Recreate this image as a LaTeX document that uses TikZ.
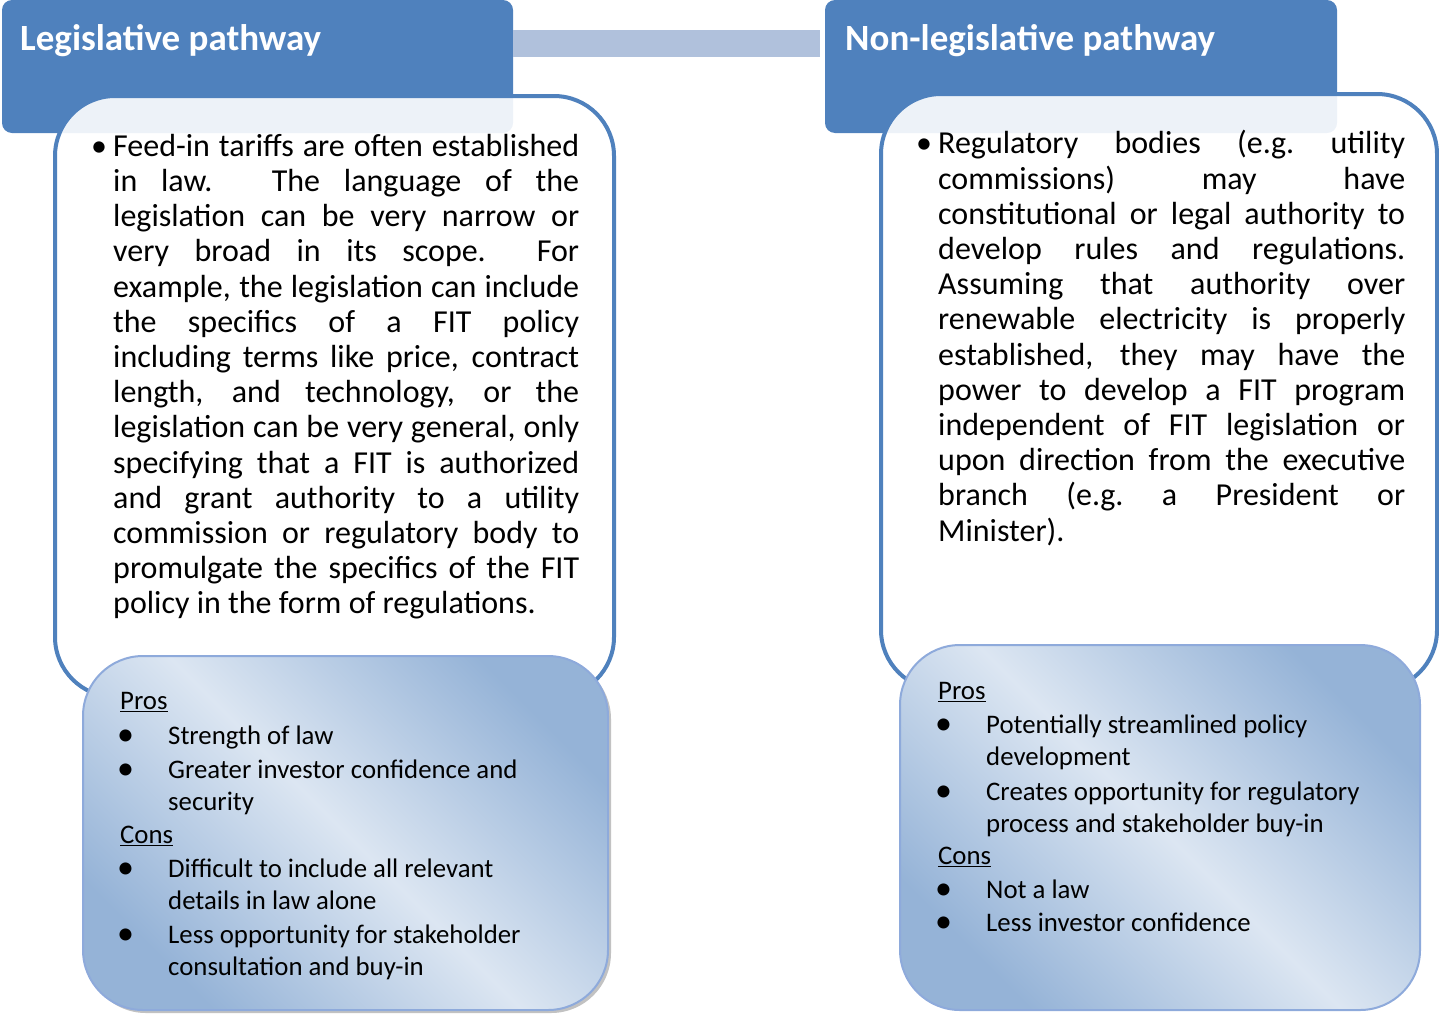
\documentclass[tikz,border=0pt]{standalone}
\usepackage{fontspec}
\setmainfont{Carlito}
\usetikzlibrary{shadows}
\definecolor{titleblue}{HTML}{4F81BD}
\definecolor{barblue}{HTML}{B0C1DC}
\definecolor{proslight}{HTML}{DCE6F2}
\definecolor{prosdark}{HTML}{95B3D7}
\definecolor{prosedge}{HTML}{8EAADB}
\newcommand*{\ProItem}{\makebox[48pt][l]{\hspace{-3pt}\raisebox{-1pt}{\fontsize{34}{32}\selectfont\textbullet}}}
\newcommand*{\ProCont}{\hspace*{48pt}}
\newcommand*{\BodyStart}{\noindent\strut\llap{\makebox[22pt][l]{\textbullet}}}

\begin{document}
\begin{tikzpicture}[x=1pt,y=-1pt,
    titlebox/.style={fill=titleblue, rounded corners=10pt, inner sep=0pt},
    panel/.style={draw=titleblue, line width=4pt, fill=white, fill opacity=0.9, rounded corners=60pt, inner sep=0pt},
    probox/.style={draw=prosedge, line width=2pt, rounded corners=60pt, inner sep=0pt,
      left color=prosdark, right color=prosdark, middle color=proslight, shading angle=-45},
    titletext/.style={anchor=base west, inner sep=0pt, text=white, font=\fontsize{37}{44}\selectfont\bfseries},
    bodytext/.style={anchor=north west, inner sep=0pt, text width=466pt, align=justify, font=\fontsize{32}{35.2}\selectfont},
    protext/.style={anchor=north west, inner sep=0pt, align=left, font=\fontsize{26.8}{32}\selectfont}]
            \useasboundingbox (0,0) rectangle (1439,1015);
            % header boxes and the bar between them
            \node[titlebox, minimum width=511pt, minimum height=133pt] (ltitle) at (257.5,66.5) {};
            \node[titlebox, minimum width=512pt, minimum height=133pt] (rtitle) at (1081,66.5) {};
            \draw[barblue, line width=27pt, shorten >=5pt] ([yshift=23pt]ltitle.east) -- ([yshift=23pt]rtitle.west);
            \node[titletext] (ltitletext) at (20,50) {Legislative pathway};
            \node[titletext] (rtitletext) at (845,50) {Non-legislative pathway};
            % white panels
            \node[panel, minimum width=559pt, minimum height=601pt] (lpanel) at (334.5,396.5) {};
            \node[panel, minimum width=556pt, minimum height=596pt] (rpanel) at (1159,392) {};
            \node[bodytext] (lbody) at (113,131.5) {\BodyStart
              Feed-in tariffs are often established\linebreak
              in law. The language of the\linebreak
              legislation can be very narrow or\linebreak
              very broad in its scope.\ \ For\linebreak
              example, the legislation can include\linebreak
              the specifics of a FIT policy\linebreak
              including terms like price, contract\linebreak
              length, and technology, or the\linebreak
              legislation can be very general, only\linebreak
              specifying that a FIT is authorized\linebreak
              and grant authority to a utility\linebreak
              commission or regulatory body to\linebreak
              promulgate the specifics of the FIT\linebreak
              policy in the form of regulations.};
            \node[bodytext, text width=467pt] (rbody) at (938,129) {\BodyStart
              Regulatory bodies (e.g.\ utility\linebreak
              commissions) may have\linebreak
              constitutional or legal authority to\linebreak
              develop rules and regulations.\linebreak
              Assuming that authority over\linebreak
              renewable electricity is properly\linebreak
              established, they may have the\linebreak
              power to develop a FIT program\linebreak
              independent of FIT legislation or\linebreak
              upon direction from the executive\linebreak
              branch (e.g.\ a President or\linebreak
              Minister).};
            % pros and cons
            \node[probox, minimum width=525pt, minimum height=354pt,
              drop shadow={shadow xshift=3pt, shadow yshift=-3pt, fill=black!40, opacity=0.6}] (lpros) at (345.5,833) {};
            \node[probox, minimum width=520pt, minimum height=365pt] (rpros) at (1160,827.5) {};
            \node[protext] (lprostext) at (120,687) {\strut\underline{Pros}\\[3pt]
              \ProItem Strength of law\\[2pt]
              \ProItem Greater investor confidence and\\
              \ProCont security\\[1pt]
              \underline{Cons}\\[2pt]
              \ProItem Difficult to include all relevant\\
              \ProCont details in law alone\\[2pt]
              \ProItem Less opportunity for stakeholder\\
              \ProCont consultation and buy-in};
            \node[protext] (rprostext) at (938,677) {\strut\underline{Pros}\\[2pt]
              \ProItem Potentially streamlined policy\\
              \ProCont development\\[3pt]
              \ProItem Creates opportunity for regulatory\\
              \ProCont process and stakeholder buy-in\\
              \underline{Cons}\\[2pt]
              \ProItem Not a law\\[1pt]
              \ProItem Less investor confidence};
          \end{tikzpicture}
\end{document}
